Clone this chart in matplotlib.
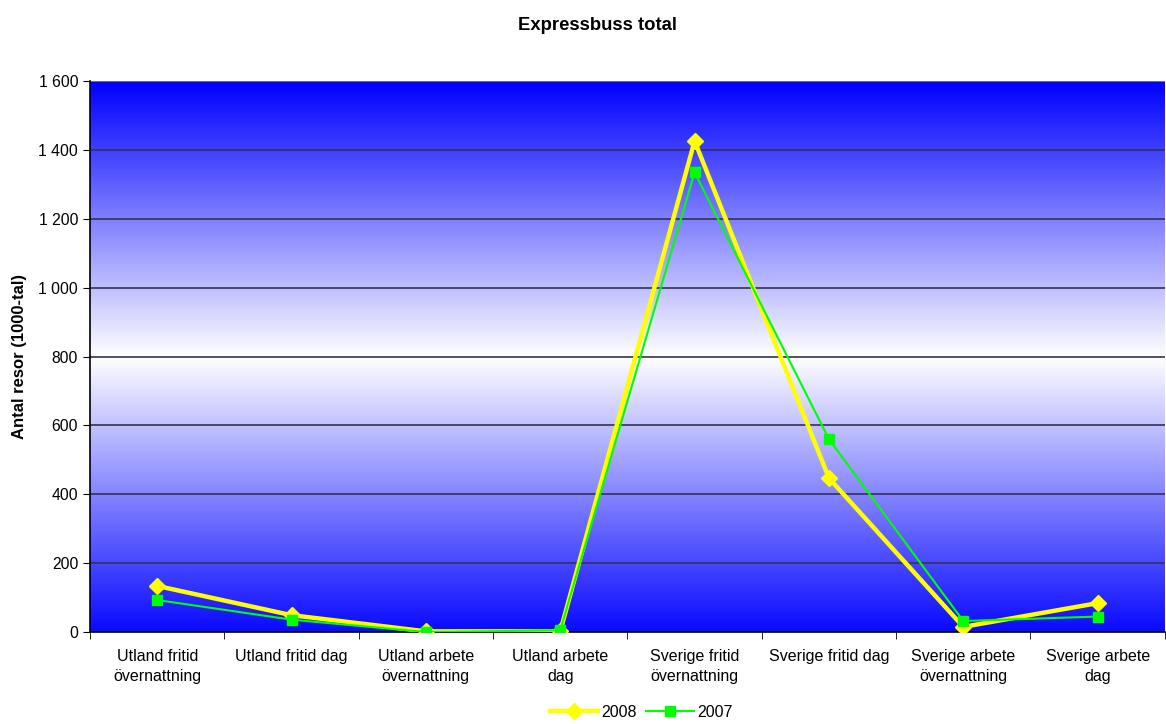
import numpy as np
import matplotlib.pyplot as plt
from matplotlib.colors import LinearSegmentedColormap
from matplotlib.ticker import FuncFormatter

plt.rcParams['font.family'] = ['Liberation Sans', 'DejaVu Sans']

#-----Data
categories = ['Utland fritid\növernattning', 'Utland fritid dag', 'Utland arbete\növernattning',
              'Utland arbete\ndag', 'Sverige fritid\növernattning', 'Sverige fritid dag',
              'Sverige arbete\növernattning', 'Sverige arbete\ndag']
resor_2008 = [134, 49, 2, 2, 1426, 447, 15, 84]
resor_2007 = [93, 36, 0, 5, 1335, 560, 32, 45]

#-----Figure
fig = plt.figure(figsize=(11.66, 7.24), dpi=100)
ax = fig.add_axes([0.0772, 0.127, 0.9218, 0.761])

x = np.arange(len(categories))
ax.set_xlim(-0.5, len(categories) - 0.5)
ax.set_ylim(0, 1600)

# blue - white - blue gradient background
cmap = LinearSegmentedColormap.from_list('bg', ['#0a0aff', '#ffffff', '#0000ff'])
grad = np.linspace(0, 1, 256).reshape(-1, 1)
ax.imshow(grad, cmap=cmap, aspect='auto', extent=[-0.5, len(categories) - 0.5, 0, 1600],
          origin='lower', zorder=0)

# gridlines
for v in range(200, 1600, 200):
    ax.axhline(v, color='#33334d', lw=1.2, zorder=1)
ax.axhline(1600, color='#808080', lw=1.2, zorder=1)

ax.plot(x, resor_2008, color='#ffff00', lw=3.2, marker='D', ms=8, label='2008', zorder=3)
ax.plot(x, resor_2007, color='#00ff00', lw=1.5, marker='s', ms=7, label='2007', zorder=4)

ax.set_xticks(x)
ax.set_xticklabels(categories, fontsize=11.5, linespacing=1.45)
ax.set_xticks(np.arange(-0.5, len(categories), 1), minor=True)
ax.tick_params(axis='x', which='major', length=0, pad=12)
ax.tick_params(axis='x', which='minor', length=5, color='black')
ax.set_yticks(range(0, 1601, 200))
ax.yaxis.set_major_formatter(FuncFormatter(lambda v, p: f'{int(v):,}'.replace(',', ' ')))
ax.tick_params(axis='y', labelsize=11.3, length=5)

for s in ['top', 'right']:
    ax.spines[s].set_visible(False)
ax.spines['left'].set_linewidth(1.2)
ax.spines['bottom'].set_linewidth(1.2)

ax.set_ylabel('Antal resor (1000-tal)', fontsize=12, fontweight='bold', labelpad=8)
fig.suptitle('Expressbuss total', fontsize=13.3, fontweight='bold', x=0.512, y=0.976)

fig.legend(loc='lower center', ncol=2, frameon=False, fontsize=11.5, bbox_to_anchor=(0.55, -0.014),
           handlelength=3, columnspacing=0.6, handletextpad=0.2)

plt.savefig('out.png', dpi=100)
